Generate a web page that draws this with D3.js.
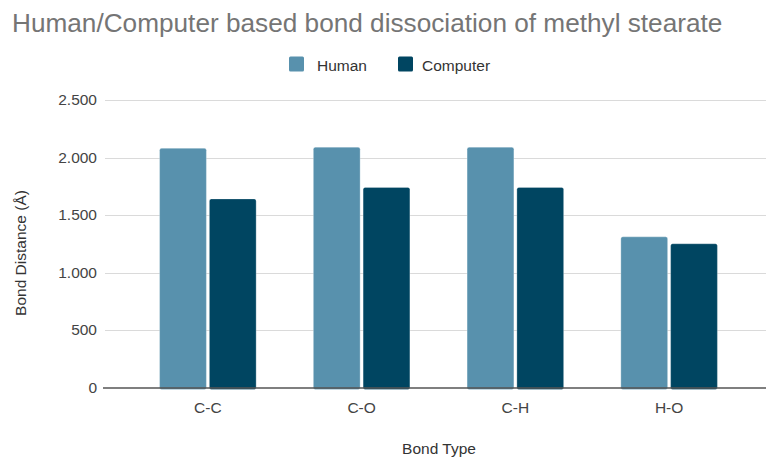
<!DOCTYPE html>
<html>
<head>
<meta charset="utf-8">
<script src="https://cdn.jsdelivr.net/npm/d3@7"></script>
<style>
  html, body { margin: 0; padding: 0; background: #fff; }
  svg { display: block; font-family: "Liberation Sans", Arial, sans-serif; }
</style>
</head>
<body>
<svg id="chart" width="767" height="458"></svg>
<script>
// Bond types along the x axis
const categories = ["C-C", "C-O", "C-H", "H-O"];
// Series names
const seriesNames = ["Human", "Computer"];
// Bond distance values per series
const humanValues = [2080, 2090, 2090, 1310];
const computerValues = [1640, 1740, 1740, 1250];
// Y axis ticks
const yTicks = [0, 500, 1000, 1500, 2000, 2500];
const colors = ["#5891ad", "#004561"];

const svg = d3.select("#chart");

const y = d3.scaleLinear().domain([0, 2500]).range([387.5, 100]);
const x0 = d3.scaleBand().domain(categories).range([131, 746])
  .paddingInner(0.372).paddingOuter(0.186);
const x1 = d3.scaleBand().domain(seriesNames).range([0, x0.bandwidth()])
  .paddingInner(0.06);

const fmt = v => d3.format(",")(v).replace(/,/g, ".");
const labelSize = 15.5;

// Gridlines
svg.append("g").selectAll("line").data(yTicks.filter(d => d > 0)).join("line")
  .attr("x1", 105).attr("x2", 766)
  .attr("y1", d => Math.round(y(d)) + 0.5).attr("y2", d => Math.round(y(d)) + 0.5)
  .attr("stroke", "#dadada").attr("stroke-width", 1.2);

// Y tick labels
svg.append("g").selectAll("text").data(yTicks).join("text")
  .attr("x", 97).attr("y", d => y(d))
  .attr("dy", "0.35em").attr("text-anchor", "end")
  .attr("font-size", labelSize).attr("fill", "#444")
  .text(fmt);

// Bars
const rows = categories.map((c, i) => ({ cat: c, vals: [humanValues[i], computerValues[i]] }));
const groups = svg.append("g").selectAll("g").data(rows).join("g")
  .attr("transform", d => `translate(${x0(d.cat)},0)`);
groups.selectAll("rect").data(d => d.vals.map((v, j) => ({ key: seriesNames[j], v, j })))
  .join("rect")
  .attr("x", d => x1(d.key))
  .attr("width", x1.bandwidth())
  .attr("y", d => y(d.v))
  .attr("height", d => y(0) - y(d.v) + 2)
  .attr("rx", 2)
  .attr("fill", d => colors[d.j])
  .attr("stroke", "#ffffff").attr("stroke-opacity", 0.35).attr("stroke-width", 0.8);

// Baseline
svg.append("line").attr("x1", 103).attr("x2", 766)
  .attr("y1", y(0) + 0.5).attr("y2", y(0) + 0.5)
  .attr("stroke", "#555").attr("stroke-width", 1.6);

// X tick labels
svg.append("g").selectAll("text").data(categories).join("text")
  .attr("x", d => x0(d) + x0.bandwidth() / 2).attr("y", 412.5)
  .attr("text-anchor", "middle").attr("font-size", labelSize).attr("fill", "#444")
  .text(d => d);

// Axis titles
svg.append("text").attr("x", 439).attr("y", 454)
  .attr("text-anchor", "middle").attr("font-size", labelSize).attr("fill", "#333")
  .text("Bond Type");
svg.append("text")
  .attr("transform", "translate(25.5,253) rotate(-90)")
  .attr("text-anchor", "middle").attr("font-size", labelSize).attr("fill", "#333")
  .text("Bond Distance (Å)");

// Title
svg.append("text").attr("x", 12).attr("y", 31.5)
  .attr("font-size", 26.2).attr("fill", "#757575")
  .text("Human/Computer based bond dissociation of methyl stearate");

// Legend
const legend = svg.append("g");
const legendItems = [
  { name: seriesNames[0], color: colors[0], sx: 289, tx: 317 },
  { name: seriesNames[1], color: colors[1], sx: 398, tx: 422 }
];
legend.selectAll("rect").data(legendItems).join("rect")
  .attr("x", d => d.sx).attr("y", 56.5).attr("width", 15).attr("height", 15).attr("rx", 1.5)
  .attr("fill", d => d.color);
legend.selectAll("text").data(legendItems).join("text")
  .attr("x", d => d.tx).attr("y", 70.5)
  .attr("font-size", labelSize).attr("fill", "#333")
  .text(d => d.name);
</script>
</body>
</html>
